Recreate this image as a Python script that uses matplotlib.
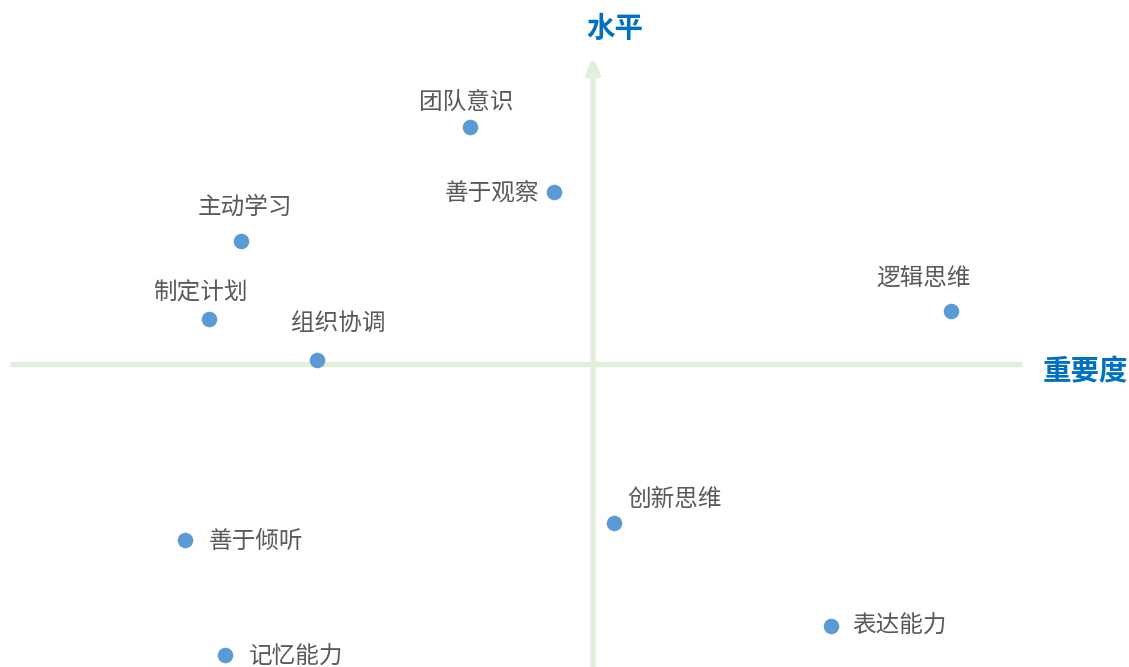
import matplotlib
matplotlib.use('Agg')
import matplotlib.pyplot as plt

plt.rcParams['font.family'] = ['Noto Sans CJK SC', 'DejaVu Sans']

# skills: importance (x) vs level (y), origin at the crossing
skills = ['团队意识', '善于观察', '主动学习', '逻辑思维', '制定计划',
          '组织协调', '创新思维', '善于倾听', '表达能力', '记忆能力']
importance = [-1.23, -0.39, -3.52, 3.58, -3.84, -2.76, 0.21, -4.08, 2.38, -3.68]
level = [2.37, 1.72, 1.23, 0.53, 0.45, 0.04, -1.59, -1.76, -2.62, -2.91]

x_axis_label = '重要度'
y_axis_label = '水平'

W, H = 1129, 667
fig = plt.figure(figsize=(W / 100, H / 100), dpi=100)
ax = fig.add_axes([0, 0, 1, 1])
ax.set_xlim(-5.93, 5.36)
ax.set_ylim(-3.03, 3.64)
ax.axis('off')

line_c = '#E2EFDA'
ax.plot([-5.83, 4.29], [0, 0], color=line_c, lw=3.8, solid_capstyle='butt', zorder=1)
ax.annotate('', xy=(0, 3.07), xytext=(0, -3.05),
            arrowprops=dict(arrowstyle='-|>,head_length=0.9,head_width=0.4',
                            color=line_c, lw=3.8, shrinkA=0, shrinkB=0), zorder=1)

ax.scatter(importance, level, s=125, color='#5B9BD5', zorder=3, linewidths=0)

# label centre offsets from each point, in pixels
offsets = {
    '团队意识': (-4, 25), '善于观察': (-62, -1), '主动学习': (4, 34),
    '逻辑思维': (-27, 32), '制定计划': (-9, 26), '组织协调': (21, 37),
    '创新思维': (61, 24), '善于倾听': (71, -2), '表达能力': (68, 0),
    '记忆能力': (71, -2),
}
txt_c = '#595959'
for name, xv, yv in zip(skills, importance, level):
    ax.annotate(name, (xv, yv), xytext=offsets[name], textcoords='offset pixels',
                ha='center', va='center', fontsize=17, color=txt_c)

ax.text(0.22, 3.35, y_axis_label, ha='center', va='center', fontsize=20.5,
        fontweight='bold', color='#0070C0')
ax.text(4.92, -0.08, x_axis_label, ha='center', va='center', fontsize=20.5,
        fontweight='bold', color='#0070C0')

fig.savefig('out.png', dpi=100)
